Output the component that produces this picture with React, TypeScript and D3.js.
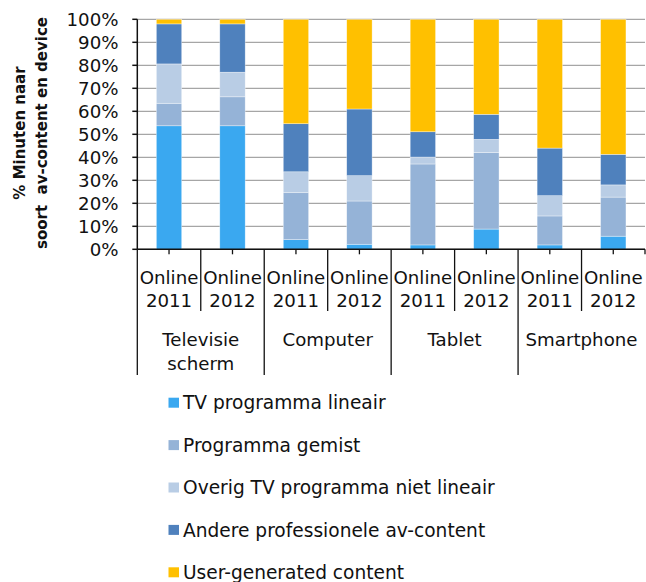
import React from "react";
import * as d3 from "d3";

const devices = ["Televisie\nscherm", "Computer", "Tablet", "Smartphone"];
const years = ["Online\n2011", "Online\n2012"];
const seriesNames = [
  "TV programma lineair",
  "Programma gemist",
  "Overig TV programma niet lineair",
  "Andere professionele av-content",
  "User-generated content",
];
const seriesColors = ["#3AA8F0", "#95B3D7", "#B9CDE5", "#4F81BD", "#FFC000"];
// values per bar (device x year), in order of devices/years
const lineair = [53.7, 53.7, 4.2, 2.2, 1.9, 8.8, 1.9, 5.7];
const gemist = [9.8, 12.6, 20.4, 18.8, 35.2, 33.2, 12.6, 17.0];
const overig = [17.1, 10.7, 9.1, 11.0, 3.0, 5.8, 8.8, 5.3];
const andere = [17.4, 21.0, 20.9, 29.0, 11.0, 10.9, 20.7, 13.3];
const ugc = [2.0, 2.0, 45.4, 39.0, 48.9, 41.3, 56.0, 58.7];
const yTicks = [0, 10, 20, 30, 40, 50, 60, 70, 80, 90, 100];
const yTitle = ["% Minuten naar", "soort  av-content en device"];

const W = 646;
const H = 582;
const FONT = "'DejaVu Sans', Verdana, sans-serif";

export default function App() {
  const left = 137.3;
  const right = 645;
  const top = 19.3;
  const bottom = 249.3;

  const seriesArrays = [lineair, gemist, overig, andere, ugc];
  const bars = d3.range(devices.length * years.length).map((i) => {
    const row: any = { id: i };
    seriesNames.forEach((s, k) => (row[s] = seriesArrays[k][i]));
    return row;
  });
  const stack = d3.stack<any>().keys(seriesNames);
  const stacked = stack(bars);

  const x = d3
    .scaleBand<number>()
    .domain(bars.map((b) => b.id))
    .range([left, right])
    .padding(0);
  const bw = x.bandwidth() * 0.4;
  const y = d3.scaleLinear().domain([0, 100]).range([bottom, top]);

  const deviceWidth = x.bandwidth() * years.length;

  return (
    <svg
      width={W}
      height={H}
      style={{ position: "absolute", left: 0, top: 0, background: "#fff" }}
      fontFamily={FONT}
    >
      {/* gridlines */}
      {yTicks.map((t) => (
        <line
          key={"g" + t}
          x1={left}
          x2={right}
          y1={y(t)}
          y2={y(t)}
          stroke="#A6A6A6"
          strokeWidth={1.2}
        />
      ))}
      {/* bars */}
      {stacked.map((layer, k) => (
        <g key={layer.key} fill={seriesColors[k]}>
          {layer.map((d, i) => (
            <rect
              key={i}
              x={(x(i) as number) + (x.bandwidth() - bw) / 2}
              y={y(d[1])}
              width={bw}
              height={Math.max(0, y(d[0]) - y(d[1]))}
              stroke="#ffffff"
              strokeOpacity={0.6}
              strokeWidth={0.6}
            />
          ))}
        </g>
      ))}
      {/* y axis */}
      <line x1={left} x2={left} y1={top} y2={bottom} stroke="#111" strokeWidth={1.5} />
      {yTicks.map((t) => (
        <g key={"t" + t}>
          <line x1={left - 5} x2={left} y1={y(t)} y2={y(t)} stroke="#111" strokeWidth={1.5} />
          <text
            x={118.5}
            y={y(t)}
            dy="0.36em"
            textAnchor="end"
            fontSize={18.2}
            fill="#111"
          >
            {t + "%"}
          </text>
        </g>
      ))}
      {/* y title */}
      {yTitle.map((line, i) => (
        <text
          key={"yt" + i}
          transform={`translate(${25 + i * 21.5},${133}) rotate(-90)`}
          textAnchor="middle"
          fontSize={15}
          fontWeight="bold"
          fill="#111"
          style={{ whiteSpace: "pre" }}
        >
          {line}
        </text>
      ))}
      {/* x axis */}
      <line x1={left} x2={right} y1={bottom} y2={bottom} stroke="#111" strokeWidth={1.5} />
      {bars.map((b) => (
        <line
          key={"ct" + b.id}
          x1={(x(b.id) as number) + x.bandwidth() / 2}
          x2={(x(b.id) as number) + x.bandwidth() / 2}
          y1={bottom}
          y2={bottom + 5}
          stroke="#111"
          strokeWidth={1.3}
        />
      ))}
      {/* separators */}
      {bars.map((b) => {
        const xi = x(b.id) as number;
        const isDevice = b.id % years.length === 0;
        return (
          <line
            key={"s" + b.id}
            x1={xi}
            x2={xi}
            y1={bottom}
            y2={isDevice ? 375 : 311}
            stroke="#111"
            strokeWidth={1.3}
          />
        );
      })}
      <line x1={right} x2={right} y1={bottom} y2={bottom + 5} stroke="#111" strokeWidth={1.3} />
      {/* year labels */}
      {bars.map((b) => {
        const cx = (x(b.id) as number) + x.bandwidth() / 2;
        const lines = years[b.id % years.length].split("\n");
        return (
          <text key={"yl" + b.id} x={cx} textAnchor="middle" fontSize={18.2} fill="#111">
            {lines.map((l, j) => (
              <tspan key={j} x={cx} y={283.5 + j * 23.5}>
                {l}
              </tspan>
            ))}
          </text>
        );
      })}
      {/* device labels */}
      {devices.map((dv, i) => {
        const cx = left + deviceWidth * i + deviceWidth / 2;
        const lines = dv.split("\n");
        return (
          <text key={"dl" + i} x={cx} textAnchor="middle" fontSize={18.2} fill="#111">
            {lines.map((l, j) => (
              <tspan key={j} x={cx} y={346 + j * 23.5}>
                {l}
              </tspan>
            ))}
          </text>
        );
      })}
      {/* legend */}
      {seriesNames.map((s, i) => {
        const cy = 402.7 + i * 42.4;
        return (
          <g key={"lg" + i}>
            <rect x={168.5} y={cy - 5} width={10.5} height={10} fill={seriesColors[i]} />
            <text x={183} y={cy} dy="0.36em" fontSize={18.6} fill="#111">
              {s}
            </text>
          </g>
        );
      })}
    </svg>
  );
}
